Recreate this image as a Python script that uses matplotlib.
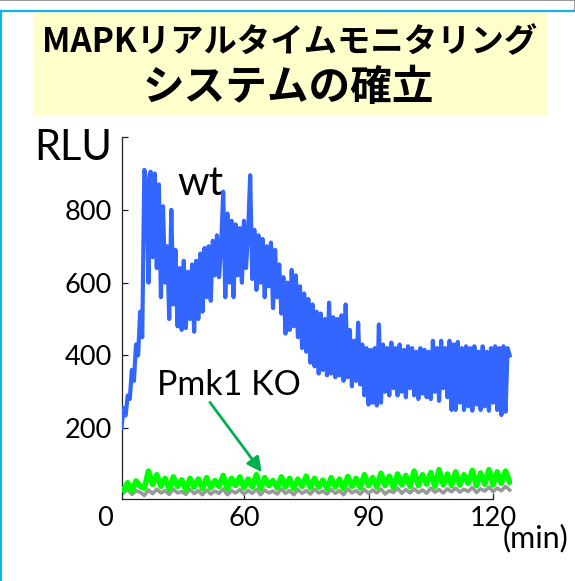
import matplotlib

matplotlib.use("Agg")
import matplotlib.pyplot as plt
import numpy as np
from matplotlib.patches import Rectangle
from matplotlib.lines import Line2D

# sampling of the luminometer traces (minutes)
WT_START = 30.5
WT_STEP = 0.5
KO_START = 31.0
KO_STEP = 1.0

# wild type RLU trace
wt_rlu = [
    200, 255, 235, 290, 280, 360, 330, 430, 400, 520, 450, 910, 880, 600, 905, 670,
    900, 640, 870, 560, 810, 600, 700, 500, 800, 540, 690, 480, 640, 470, 660, 475,
    630, 500, 650, 465, 660, 500, 680, 520, 695, 560, 700, 550, 715, 620, 730, 615,
    700, 850, 560, 790, 600, 770, 560, 760, 620, 750, 600, 770, 640, 740, 895, 610,
    745, 580, 730, 600, 720, 560, 700, 590, 710, 530, 690, 560, 650, 515, 615, 460,
    600, 470, 635, 480, 620, 450, 590, 420, 570, 410, 555, 380, 540, 370, 520, 350,
    515, 360, 500, 345, 545, 350, 505, 340, 500, 345, 510, 330, 540, 340, 470, 315,
    440, 330, 490, 320, 430, 290, 420, 265, 415, 270, 420, 262, 485, 270, 430, 300,
    420, 290, 435, 310, 420, 290, 430, 300, 415, 285, 425, 310, 420, 290, 410, 280,
    420, 295, 415, 285, 410, 280, 440, 300, 420, 275, 440, 310, 420, 285, 440, 250,
    430, 250, 437, 270, 420, 250, 425, 260, 420, 248, 425, 265, 410, 250, 425, 260,
    410, 248, 420, 270, 425, 250, 420, 236, 425, 245, 420, 400,
]

# Pmk1 KO trace
ko_rlu = [
    30, 50, 26, 55, 40, 35, 82, 45, 72, 40,
    62, 32, 66, 40, 58, 30, 62, 38, 60, 34,
    64, 36, 56, 40, 70, 32, 62, 42, 66, 36,
    60, 38, 72, 34, 64, 42, 56, 36, 66, 38,
    62, 34, 60, 40, 68, 36, 62, 38, 57, 34,
    64, 38, 60, 34, 67, 40, 62, 36, 72, 42,
    64, 38, 76, 42, 68, 36, 74, 44, 70, 40,
    82, 42, 72, 46, 78, 40, 86, 44, 74, 42,
    80, 44, 72, 48, 84, 42, 77, 46, 86, 44, 80, 48, 82, 52,
]

# background (no reporter) trace
bg_rlu = [
    22, 32, 18, 28, 24, 15, 30, 20, 32, 22,
    28, 18, 32, 22, 26, 18, 32, 20, 28, 17,
    30, 19, 27, 21, 33, 17, 28, 22, 31, 19,
    28, 21, 32, 17, 30, 22, 27, 19, 33, 21,
    28, 17, 31, 21, 28, 19, 32, 22, 27, 19,
    31, 21, 28, 17, 33, 22, 28, 19, 31, 21,
    30, 22, 33, 19, 28, 23, 35, 21, 31, 22,
    33, 23, 30, 21, 35, 24, 31, 22, 33, 25,
    35, 24, 32, 26, 37, 23, 33, 27, 38, 26, 35, 28, 40, 30,
]

x_ticks = [60, 90, 120]
x_tick_labels = ["60", "90", "120"]
y_ticks = [200, 400, 600, 800, 1000]
y_tick_labels = ["200", "400", "600", "800", ""]

title_line1 = "MAPKリアルタイムモニタリング"
title_line2 = "システムの確立"

plt.rcParams["font.family"] = ["Lato", "DejaVu Sans"]
CJK = ["Noto Sans CJK JP", "DejaVu Sans"]


def _frame(fig):
    # slide decoration: blue frame, yellow title box
    fig.add_artist(Line2D([0, 1], [0.9815, 0.9815], color="#12B4F0", lw=1.6))
    fig.add_artist(Line2D([0.002, 0.002], [0, 0.9815], color="#12B4F0", lw=1.6))
    fig.add_artist(Line2D([0, 1], [0.9995, 0.9995], color="#888888", lw=0.6))
    fig.add_artist(Line2D([0.998, 0.998], [0.9815, 1.0], color="#888888", lw=0.6))
    fig.add_artist(Rectangle((0.057, 0.802), 0.896, 0.177, transform=fig.transFigure,
                             facecolor="#FFFFCC", edgecolor="none"))
    fig.text(0.503, 0.927, title_line1, family=CJK, weight="bold", fontsize=24,
             ha="center", va="center")
    fig.text(0.501, 0.848, title_line2, family=CJK, weight="bold", fontsize=30,
             ha="center", va="center")


def main():
    fig = plt.figure(figsize=(5.75, 5.81), dpi=100)
    _frame(fig)

    ax = fig.add_axes([0.212, 0.141, 0.678, 0.623])
    t_wt = WT_START + WT_STEP * np.arange(len(wt_rlu))
    t_ko = KO_START + KO_STEP * np.arange(len(ko_rlu))

    ax.plot(t_ko, bg_rlu, color="#999999", lw=2.6, zorder=2)
    ax.plot(t_ko, ko_rlu, color="#00FF00", lw=4.0, zorder=3)
    ax.plot(t_wt, wt_rlu, color="#3366FF", lw=3.0, zorder=4)

    ax.set_xlim(30.6, 124.5)
    ax.set_ylim(5, 1000)
    for side in ("top", "right"):
        ax.spines[side].set_visible(False)
    ax.spines["bottom"].set_bounds(30.6, 120)
    for side in ("left", "bottom"):
        ax.spines[side].set_linewidth(0.9)
        ax.spines[side].set_color("#222222")

    ax.set_xticks(x_ticks)
    ax.set_xticklabels(x_tick_labels)
    ax.set_yticks(y_ticks)
    ax.set_yticklabels(y_tick_labels)
    ax.tick_params(axis="both", direction="in", length=4, width=0.9, labelsize=19.5,
                   color="#222222")
    ax.tick_params(axis="x", pad=5)
    ax.tick_params(axis="y", pad=7)

    ax.text(49.4, 872, "wt", fontsize=29, ha="center", va="center")
    ax.text(56.4, 318, "Pmk1 KO", fontsize=24.5, ha="center", va="center")
    ax.annotate("", xy=(64.3, 79), xytext=(51.8, 271),
                arrowprops=dict(arrowstyle="-|>", color="#00B050", lw=2,
                                mutation_scale=22, shrinkA=0, shrinkB=0))

    fig.text(0.128, 0.745, "RLU", fontsize=30, ha="center", va="center")
    fig.text(0.183, 0.108, "0", fontsize=19.5, ha="center", va="center")
    fig.text(0.932, 0.074, "(min)", fontsize=22, ha="center", va="center")

    fig.savefig("out.png", dpi=100)
    plt.close(fig)


if __name__ == "__main__":
    main()
